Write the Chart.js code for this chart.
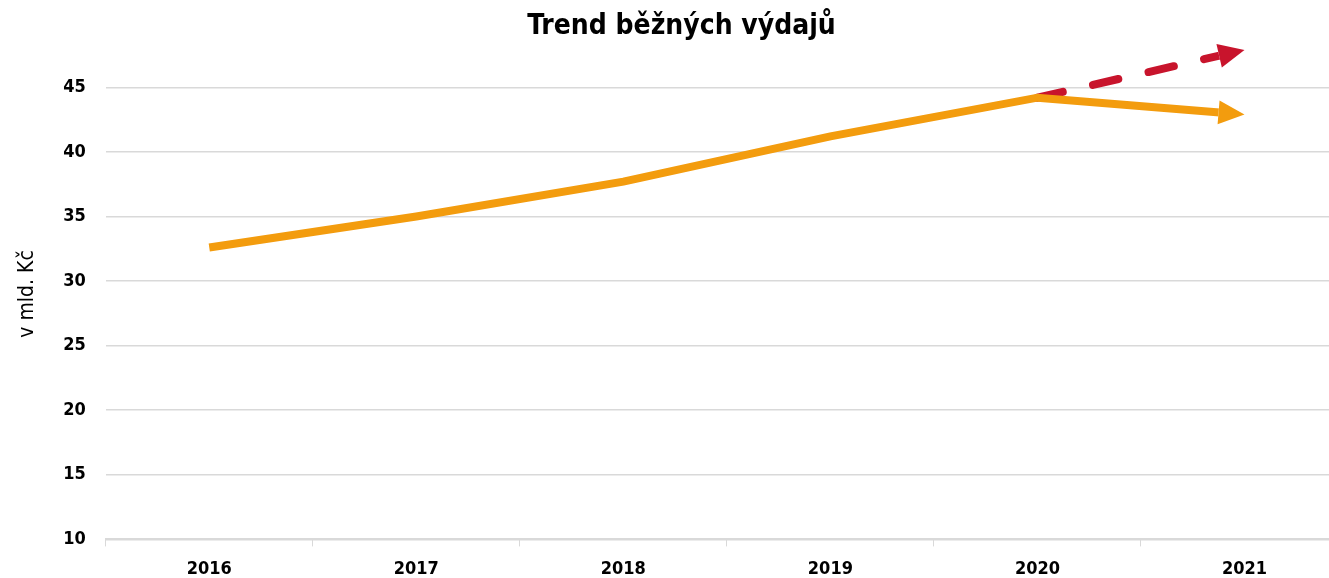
<!DOCTYPE html>
<html>
<head>
<meta charset="utf-8">
<script src="https://cdn.jsdelivr.net/npm/chart.js@4.4.0/dist/chart.umd.min.js"></script>
<style>
  html, body { margin: 0; padding: 0; background: #fff; overflow: hidden; }
  #wrap { width: 1370px; height: 578px; }
</style>
</head>
<body>
<div id="wrap"><canvas id="trend"></canvas></div>
<script>
var years = ["2016", "2017", "2018", "2019", "2020", "2021"];
var actual = [32.6, 35.0, 37.7, 41.2, 44.2, 42.9];
var outlook = [null, null, null, null, 44.2, 47.9];
var yTicks = [10, 15, 20, 25, 30, 35, 40, 45];

var FONT = "'DejaVu Sans Condensed', 'Liberation Sans Narrow', sans-serif";

// arrow geometry for the last segment of a dataset
function arrowFor(chart, i) {
  var pts = chart.getDatasetMeta(i).data.filter(function (p) { return !p.skip; });
  var a = pts[pts.length - 2], b = pts[pts.length - 1];
  var ang = Math.atan2(b.y - a.y, b.x - a.x);
  return { x: b.x, y: b.y, ang: ang, len: 26, half: 12 };
}

var arrowHeads = {
  id: "arrowHeads",
  beforeDatasetDraw: function (chart, args) {
    var ar = arrowFor(chart, args.index);
    var ctx = chart.ctx;
    var c = Math.cos(ar.ang), s = Math.sin(ar.ang);
    var bx = ar.x - c * ar.len, by = ar.y - s * ar.len;
    ctx.save();
    ctx.beginPath();
    ctx.rect(0, 0, chart.width, chart.height);
    ctx.moveTo(bx - s * 20, by + c * 20);
    ctx.lineTo(bx + s * 20, by - c * 20);
    ctx.lineTo(ar.x + c * 20 + s * 20, ar.y + s * 20 - c * 20);
    ctx.lineTo(ar.x + c * 20 - s * 20, ar.y + s * 20 + c * 20);
    ctx.closePath();
    ctx.clip("evenodd");
  },
  afterDatasetDraw: function (chart, args) {
    var ctx = chart.ctx;
    ctx.restore();
    var ar = arrowFor(chart, args.index);
    var c = Math.cos(ar.ang), s = Math.sin(ar.ang);
    var bx = ar.x - c * ar.len, by = ar.y - s * ar.len;
    ctx.save();
    ctx.fillStyle = chart.data.datasets[args.index].borderColor;
    ctx.beginPath();
    ctx.moveTo(ar.x, ar.y);
    ctx.lineTo(bx - s * ar.half, by + c * ar.half);
    ctx.lineTo(bx + s * ar.half, by - c * ar.half);
    ctx.closePath();
    ctx.fill();
    ctx.restore();
  }
};

new Chart(document.getElementById("trend"), {
  type: "line",
  data: {
    labels: years,
    datasets: [
      {
        label: "Skutečnost",
        data: actual,
        borderColor: "#f39c0e",
        borderWidth: 8,
        borderCapStyle: "butt",
        pointRadius: 0,
        tension: 0,
        clip: false
      },
      {
        label: "Výhled",
        data: outlook,
        borderColor: "#c8142c",
        borderWidth: 8,
        borderDash: [26, 31],
        borderCapStyle: "round",
        pointRadius: 0,
        tension: 0,
        clip: false
      }
    ]
  },
  options: {
    responsive: true,
    maintainAspectRatio: false,
    animation: false,
    layout: { padding: { left: 15, right: 22, top: 0, bottom: -14 } },
    plugins: {
      legend: { display: false },
      tooltip: { enabled: false },
      title: {
        display: true,
        text: "Trend běžných výdajů",
        color: "#000",
        font: { family: FONT, size: 28, weight: "bold" },
        padding: { top: 10, bottom: 5 }
      }
    },
    scales: {
      x: {
        offset: true,
        grid: { offset: true, drawOnChartArea: false, drawTicks: true, tickLength: 7, color: "#d9d9d9" },
        border: { display: true, color: "#d9d9d9", width: 2 },
        ticks: { color: "#000", padding: 12, font: { family: FONT, size: 18, weight: "bold" } }
      },
      y: {
        min: 10,
        max: 48,
        afterBuildTicks: function (axis) {
          axis.ticks = yTicks.map(function (v) { return { value: v }; });
        },
        grid: { color: "#d9d9d9", lineWidth: 1.5, drawTicks: false },
        border: { display: false },
        ticks: { color: "#000", padding: 20, font: { family: FONT, size: 18, weight: "bold" } },
        title: {
          display: true,
          text: "v mld. Kč",
          color: "#000",
          font: { family: FONT, size: 21 },
          padding: { top: 0, bottom: 3 }
        }
      }
    }
  },
  plugins: [arrowHeads]
});
</script>
</body>
</html>
